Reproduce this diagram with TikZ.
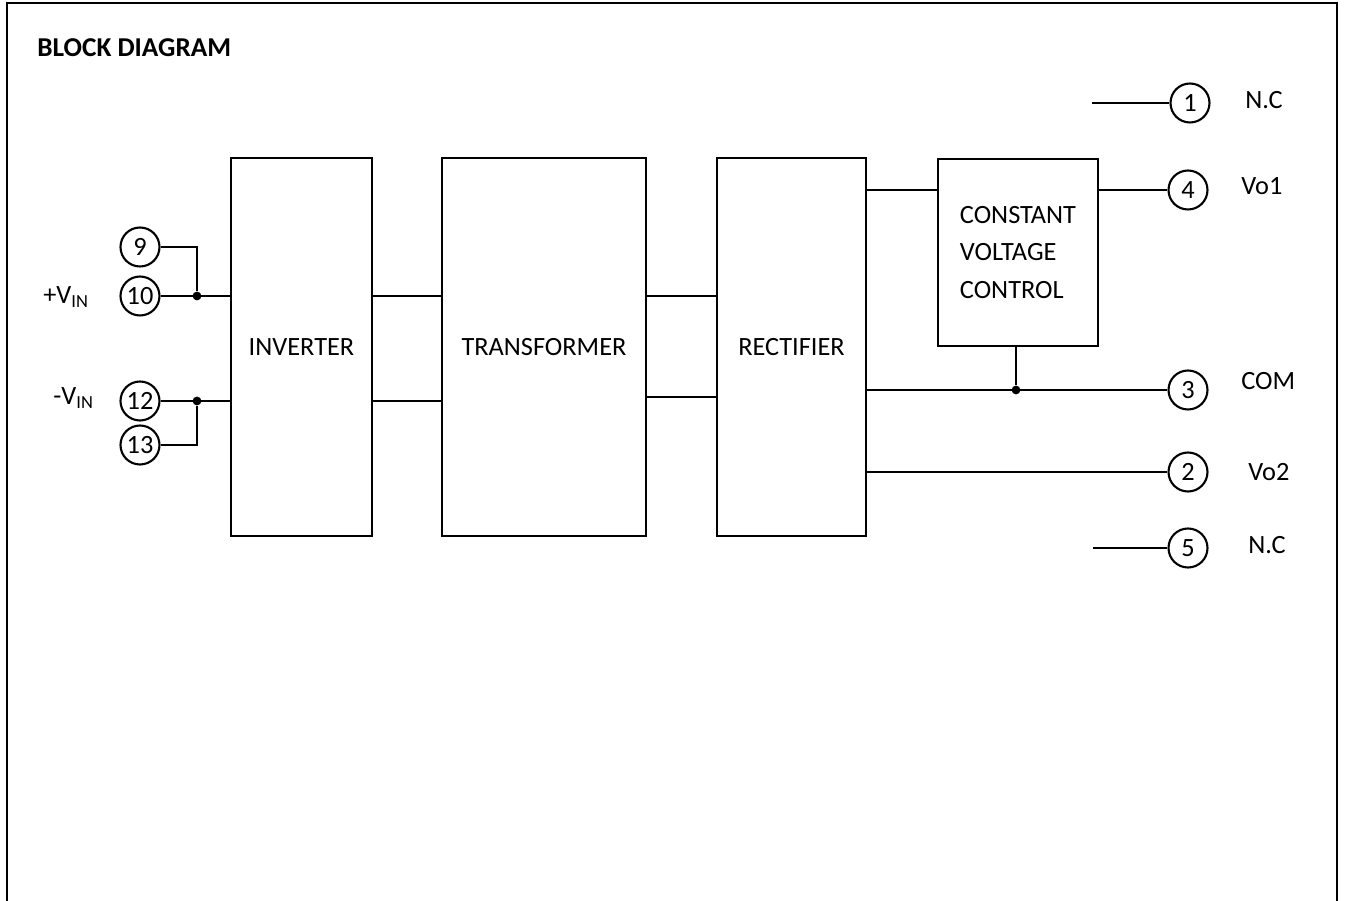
\documentclass[tikz,border=0pt]{standalone}
\usepackage{fontspec}
\setmainfont{Carlito}
\usetikzlibrary{positioning}

\begin{document}
\begin{tikzpicture}[
    x=0.02cm, y=-0.02cm,
    every node/.style={font=\fontsize{15}{21.5}\selectfont},
    blockBox/.style={
        rectangle, draw, line width=1.2pt,
        minimum height=7.56cm, align=center, inner sep=0pt
    },
    pinCircle/.style={
        circle, draw, line width=1.2pt,
        minimum size=0.78cm, inner sep=0pt
    },
    pinLabel/.style={anchor=west, inner sep=0pt},
    wireLine/.style={line width=1.2pt},
    junctionDot/.style={circle, fill, inner sep=0pt, minimum size=5pt}
]

    \useasboundingbox (0,0) rectangle (1346,901);

    % Frame (open at the bottom)
    \draw[wireLine] (7,901) -- (7,3) -- (1337,3) -- (1337,901);
    \node[anchor=west, inner sep=0pt, font=\fontsize{15.5}{17}\selectfont\bfseries] (title) at (37,48) {BLOCK DIAGRAM};

    % Blocks
    \node[blockBox, minimum width=2.82cm] (inv) at (301.5,347) {INVERTER};
    \node[blockBox, minimum width=4.08cm] (tra) at (544,347) {TRANSFORMER};
    \node[blockBox, minimum width=2.98cm] (rec) at (791.5,347) {RECTIFIER};
    \node[blockBox, minimum width=3.2cm, minimum height=3.74cm, align=left] (cvc) at (1018,252.5) {CONSTANT\\VOLTAGE\\CONTROL};

    % Input pins
    \node[pinCircle] (p9) at (140,247) {9};
    \node[pinCircle] (p10) at (140,296) {10};
    \node[pinCircle] (p12) at (140,401) {12};
    \node[pinCircle] (p13) at (140,445) {13};
    \node[pinLabel] (lPos) at (43,297) {+V\textsubscript{IN}};
    \node[pinLabel] (lNeg) at (53,398) {-V\textsubscript{IN}};

    % Output pins
    \node[pinCircle] (p1) at (1190,103) {1};
    \node[pinCircle] (p4) at (1188,190) {4};
    \node[pinCircle] (p3) at (1188,390) {3};
    \node[pinCircle] (p2) at (1188,472) {2};
    \node[pinCircle] (p5) at (1188,548) {5};
    \node[pinLabel] (lNC1) at (1245,100) {N.C};
    \node[pinLabel] (lVo1) at (1241,186) {Vo1};
    \node[pinLabel] (lCom) at (1241,381) {COM};
    \node[pinLabel] (lVo2) at (1248,472) {Vo2};
    \node[pinLabel] (lNC5) at (1248,545) {N.C};

    % Junctions and free ends
    \node[junctionDot] (jPos) at (197,296) {};
    \node[junctionDot] (jNeg) at (197,401) {};
    \node[junctionDot] (jCom) at (1016,390) {};
    \coordinate (busLo) at (0,397);
    \coordinate (nc1) at (1092,103);
    \coordinate (nc5) at (1093,548);

    % Input wiring
    \draw[wireLine] (p9.east) -| (jPos);
    \draw[wireLine] (p10.east) -- (inv.west |- p10);
    \draw[wireLine] (p13.east) -| (jNeg);
    \draw[wireLine] (p12.east) -- (inv.west |- p12);

    % Block wiring
    \draw[wireLine] (inv.east |- p10) -- (tra.west |- p10);
    \draw[wireLine] (inv.east |- p12) -- (tra.west |- p12);
    \draw[wireLine] (tra.east |- p10) -- (rec.west |- p10);
    \draw[wireLine] (tra.east |- busLo) -- (rec.west |- busLo);
    \draw[wireLine] (rec.east |- p4) -- (cvc.west |- p4);

    % Output wiring
    \draw[wireLine] (cvc.east |- p4) -- (p4.west);
    \draw[wireLine] (rec.east |- p3) -- (p3.west);
    \draw[wireLine] (cvc.south -| jCom) -- (jCom);
    \draw[wireLine] (rec.east |- p2) -- (p2.west);
    \draw[wireLine] (nc1) -- (p1.west);
    \draw[wireLine] (nc5) -- (p5.west);

\end{tikzpicture}
\end{document}
